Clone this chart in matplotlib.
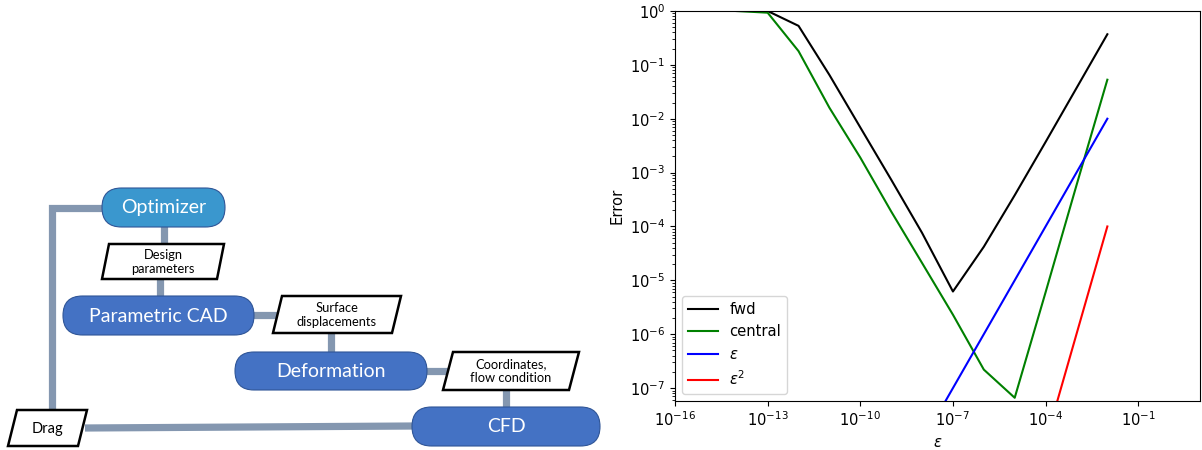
import matplotlib
matplotlib.use("Agg")
import matplotlib.pyplot as plt
from matplotlib.patches import FancyBboxPatch, Polygon
from matplotlib import ticker

# ---------------- data ----------------
eps = [1e-14, 1e-13, 1e-12, 1e-11, 1e-10, 1e-9, 1e-8, 1e-7, 1e-6, 1e-5, 1e-4, 1e-3, 1e-2]
fwd = [1.0, 1.0, 0.53, 0.065, 6.9e-3, 7.4e-4, 7.6e-5, 6.2e-6, 4.2e-5, 3.8e-4, 3.7e-3, 3.7e-2, 0.37]
central = [1.0, 0.93, 0.18, 0.016, 1.9e-3, 1.9e-4, 2.1e-5, 2.3e-6, 2.2e-7, 6.6e-8, 6.0e-6, 5.8e-4, 0.053]
ref_eps = [1e-14, 1e-13, 1e-12, 1e-11, 1e-10, 1e-9, 1e-8, 1e-7, 1e-6, 1e-5, 1e-4, 1e-3, 1e-2]
ref_eps2 = [1e-28, 1e-26, 1e-24, 1e-22, 1e-20, 1e-18, 1e-16, 1e-14, 1e-12, 1e-10, 1e-8, 1e-6, 1e-4]
labels = ["fwd", "central", r"$\epsilon$", r"$\epsilon^2$"]
colors = ["black", "green", "blue", "red"]
xticks = [1e-16, 1e-13, 1e-10, 1e-7, 1e-4, 1e-1]
yticks = [1e-7, 1e-6, 1e-5, 1e-4, 1e-3, 1e-2, 1e-1, 1e0]

# diagram content
process_boxes = [  # label, x0, x1, y0, y1, color
    ("Optimizer", 102, 225, 188, 227, "#3A97CE"),
    ("Parametric CAD", 63, 254, 296, 335, "#4472C4"),
    ("Deformation", 235, 427, 352, 390, "#4472C4"),
    ("CFD", 412, 600, 407, 446, "#4472C4"),
]
data_boxes = [  # label, x0, x1, y0, y1, slant
    ("Design\nparameters", 102, 224, 244, 279, 7),
    ("Surface\ndisplacements", 273, 401, 296, 333, 9),
    ("Coordinates,\nflow condition", 443, 579, 352, 390, 10),
    ("Drag", 8, 87, 410, 446, 9),
]
connectors = [
    [(102, 208), (52, 208), (52, 412)],
    [(85, 428), (414, 426)],
    [(164, 226), (164, 246)],
    [(160, 277), (160, 298)],
    [(252, 315), (280, 315)],
    [(331, 331), (331, 354)],
    [(425, 371), (452, 371)],
    [(506, 388), (506, 409)],
]

plt.rcParams["font.size"] = 10.6

W, H = 1202, 450
fig = plt.figure(figsize=(W / 100, H / 100), dpi=100)

# ---------------- diagram ----------------
dax = fig.add_axes([0, 0, 601 / W, 1])
dax.set_xlim(0, 601)
dax.set_ylim(450, 0)
dax.axis("off")

conn_color = "#8497B0"
for pts in connectors:
    xs, ys = zip(*pts)
    dax.plot(xs, ys, color=conn_color, lw=5.2, solid_capstyle="butt",
             solid_joinstyle="miter", zorder=1)

for label, x0, x1, y0, y1, col in process_boxes:
    h = y1 - y0
    p = FancyBboxPatch((x0, y0), x1 - x0, h,
                       boxstyle=f"round,pad=0,rounding_size={h / 2}",
                       fc=col, ec="#2F5597", lw=0.8, zorder=2)
    dax.add_patch(p)
    dax.text((x0 + x1) / 2, (y0 + y1) / 2 + 0.5, label, color="white",
             fontsize=14, family="Lato", ha="center", va="center", zorder=3)

for label, x0, x1, y0, y1, s in data_boxes:
    poly = Polygon([(x0 + s, y0), (x1, y0), (x1 - s, y1), (x0, y1)], closed=True,
                   fc="white", ec="black", lw=1.8, zorder=2)
    dax.add_patch(poly)
    fs = 10.5 if label == "Drag" else 9.3
    dax.text((x0 + x1) / 2, (y0 + y1) / 2 + 0.5, label, color="black",
             fontsize=fs, family="Lato", ha="center", va="center",
             linespacing=1.2, zorder=3)

# ---------------- plot ----------------
ax = fig.add_axes([675 / W, 1 - 401 / H, (1200 - 675) / W, (401 - 11) / H])
for ys, lab, c in zip([fwd, central, ref_eps, ref_eps2], labels, colors):
    ax.plot(eps, ys, color=c, label=lab)
ax.set_xscale("log")
ax.set_yscale("log")
ax.set_xlim(1e-16, 1e1)
ax.set_ylim(5.75e-8, 1)
ax.set_xticks(xticks)
ax.set_yticks(yticks)
ax.xaxis.set_minor_locator(ticker.NullLocator())
ax.set_xlabel(r"$\epsilon$")
ax.set_ylabel("Error")
ax.legend(loc="lower left")

fig.savefig("out.png", dpi=100)
